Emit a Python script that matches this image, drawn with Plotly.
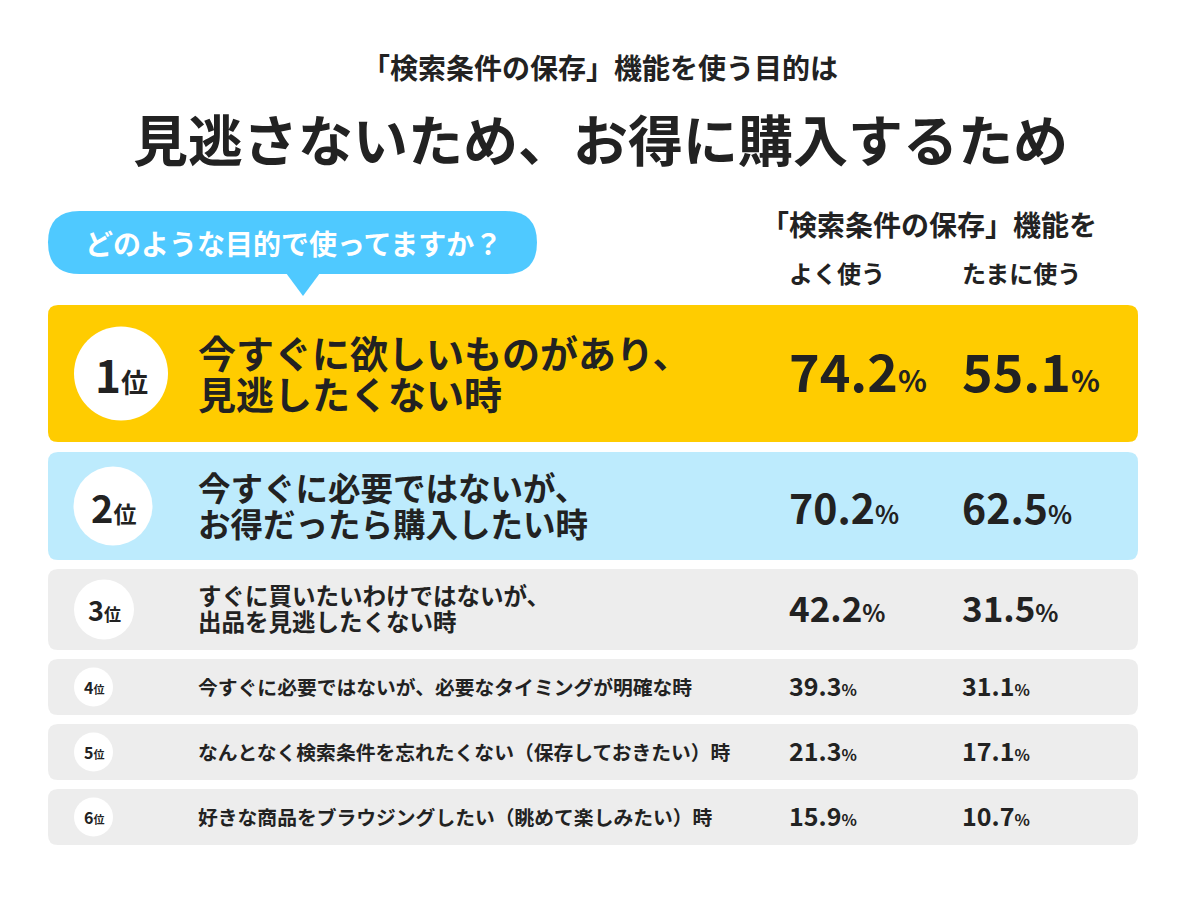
import plotly.graph_objects as go

# ---- data ----
ranks = ["1", "2", "3", "4", "5", "6"]
reasons = [
    "今すぐに欲しいものがあり、<br>見逃したくない時",
    "今すぐに必要ではないが、<br>お得だったら購入したい時",
    "すぐに買いたいわけではないが、<br>出品を見逃したくない時",
    "今すぐに必要ではないが、必要なタイミングが明確な時",
    "なんとなく検索条件を忘れたくない（保存しておきたい）時",
    "好きな商品をブラウジングしたい（眺めて楽しみたい）時",
]
often_use = [74.2, 70.2, 42.2, 39.3, 21.3, 15.9]
sometimes_use = [55.1, 62.5, 31.5, 31.1, 17.1, 10.7]
column_labels = ["よく使う", "たまに使う"]
column_header = "「検索条件の保存」機能を"
title_top = "「検索条件の保存」機能を使う目的は"
title_main = "見逃さないため、お得に購入するため"
question = "どのような目的で使ってますか？"

# ---- styles (layout only) ----
FONT = "Noto Sans CJK JP"
DARK = "#222222"
row_top = [305, 452, 569, 659, 724, 789]
row_bot = [442, 560, 650, 715, 780, 845]
row_fill = ["#FFCC00", "#BDEBFD", "#EDEDED", "#EDEDED", "#EDEDED", "#EDEDED"]
circ_cx = [121, 113, 104, 93.5, 93.5, 93.5]
circ_r = [47, 39.5, 30, 19.5, 19.5, 19.5]
rank_num_size = [44, 38, 27, 16, 16, 16]
rank_unit_size = [27, 23, 17, 11, 11, 11]
label_size = [38, 32.5, 23.5, 19.8, 19.8, 19.8]
label_line_gap = [41, 36, 26, 0, 0, 0]
label_dy = [0, 0, 0, -1, -1, -1]
num_size = [52, 41, 35, 25, 25, 25]
pct_size = [30, 25, 24, 16, 16, 16]
num_dy = [-4, 0, -3, -2, -2, -2]
X0, X1 = 48, 1138
COL_X = [787, 960]
LABEL_X = 196
OFF = 8  # page body margin compensation


def rrect(x0, y0, x1, y1, r):
    return (f"M {x0+r},{y0} L {x1-r},{y0} Q {x1},{y0} {x1},{y0+r} "
            f"L {x1},{y1-r} Q {x1},{y1} {x1-r},{y1} L {x0+r},{y1} "
            f"Q {x0},{y1} {x0},{y1-r} L {x0},{y0+r} Q {x0},{y0} {x0+r},{y0} Z")


fig = go.Figure()
shapes = []
annotations = []


def ann(x, y, text, size, color=DARK, xanchor="left", weight=700):
    annotations.append(dict(
        x=x, y=y, xref="x", yref="y", text=text, showarrow=False,
        xanchor=xanchor, yanchor="middle",
        font=dict(family=FONT, size=size, color=color, weight=weight)))


# titles
ann(600, 67, title_top, 28, xanchor="center")
ann(600, 137, title_main, 55, xanchor="center")

# question bubble
shapes.append(dict(type="path", path=rrect(48, 211, 537, 274, 31.5),
                   fillcolor="#4FC9FF", line=dict(width=0), layer="below"))
shapes.append(dict(type="path", path="M 286,273 L 320,273 L 303,296 Z",
                   fillcolor="#4FC9FF", line=dict(width=0), layer="below"))
ann(293, 243, question, 28, color="#FFFFFF", xanchor="center")

# column headers
ann(759, 224, column_header, 28)
for cx, lab in zip(COL_X, column_labels):
    ann(cx, 272, lab, 24)

# rows
for i in range(len(ranks)):
    y0, y1 = row_top[i], row_bot[i]
    cy = (y0 + y1) / 2
    shapes.append(dict(type="path", path=rrect(X0, y0, X1, y1, 10),
                       fillcolor=row_fill[i], line=dict(width=0), layer="below"))
    r = circ_r[i]
    shapes.append(dict(type="circle", x0=circ_cx[i] - r, x1=circ_cx[i] + r,
                       y0=cy - r, y1=cy + r, fillcolor="#FFFFFF",
                       line=dict(width=0), layer="below"))
    ann(circ_cx[i], cy,
        f"{ranks[i]}<span style='font-size:{rank_unit_size[i]}px'>位</span>",
        rank_num_size[i], xanchor="center")
    lines = reasons[i].split("<br>")
    gap = label_line_gap[i]
    for j, line in enumerate(lines):
        ly = cy + (j - (len(lines) - 1) / 2) * gap - (2 if len(lines) > 1 else 0) + label_dy[i]
        ann(LABEL_X, ly, line, label_size[i])
    for cx, vals in zip(COL_X, [often_use, sometimes_use]):
        ann(cx, cy + num_dy[i],
            f"{vals[i]:.1f}<span style='font-size:{pct_size[i]}px'>%</span>",
            num_size[i])

# invisible trace to anchor the axes
fig.add_trace(go.Scatter(x=[OFF, 1200], y=[OFF, 900], mode="markers",
                         marker=dict(opacity=0), hoverinfo="skip",
                         showlegend=False))

fig.update_layout(
    width=1200, height=900,
    margin=dict(l=0, r=0, t=0, b=0),
    paper_bgcolor="#FFFFFF", plot_bgcolor="#FFFFFF",
    xaxis=dict(range=[OFF, 1200 + OFF], visible=False, fixedrange=True),
    yaxis=dict(range=[900 + OFF, OFF], visible=False, fixedrange=True),
    shapes=shapes, annotations=annotations, showlegend=False,
)
fig.write_html("out.html", config={"displayModeBar": False})
